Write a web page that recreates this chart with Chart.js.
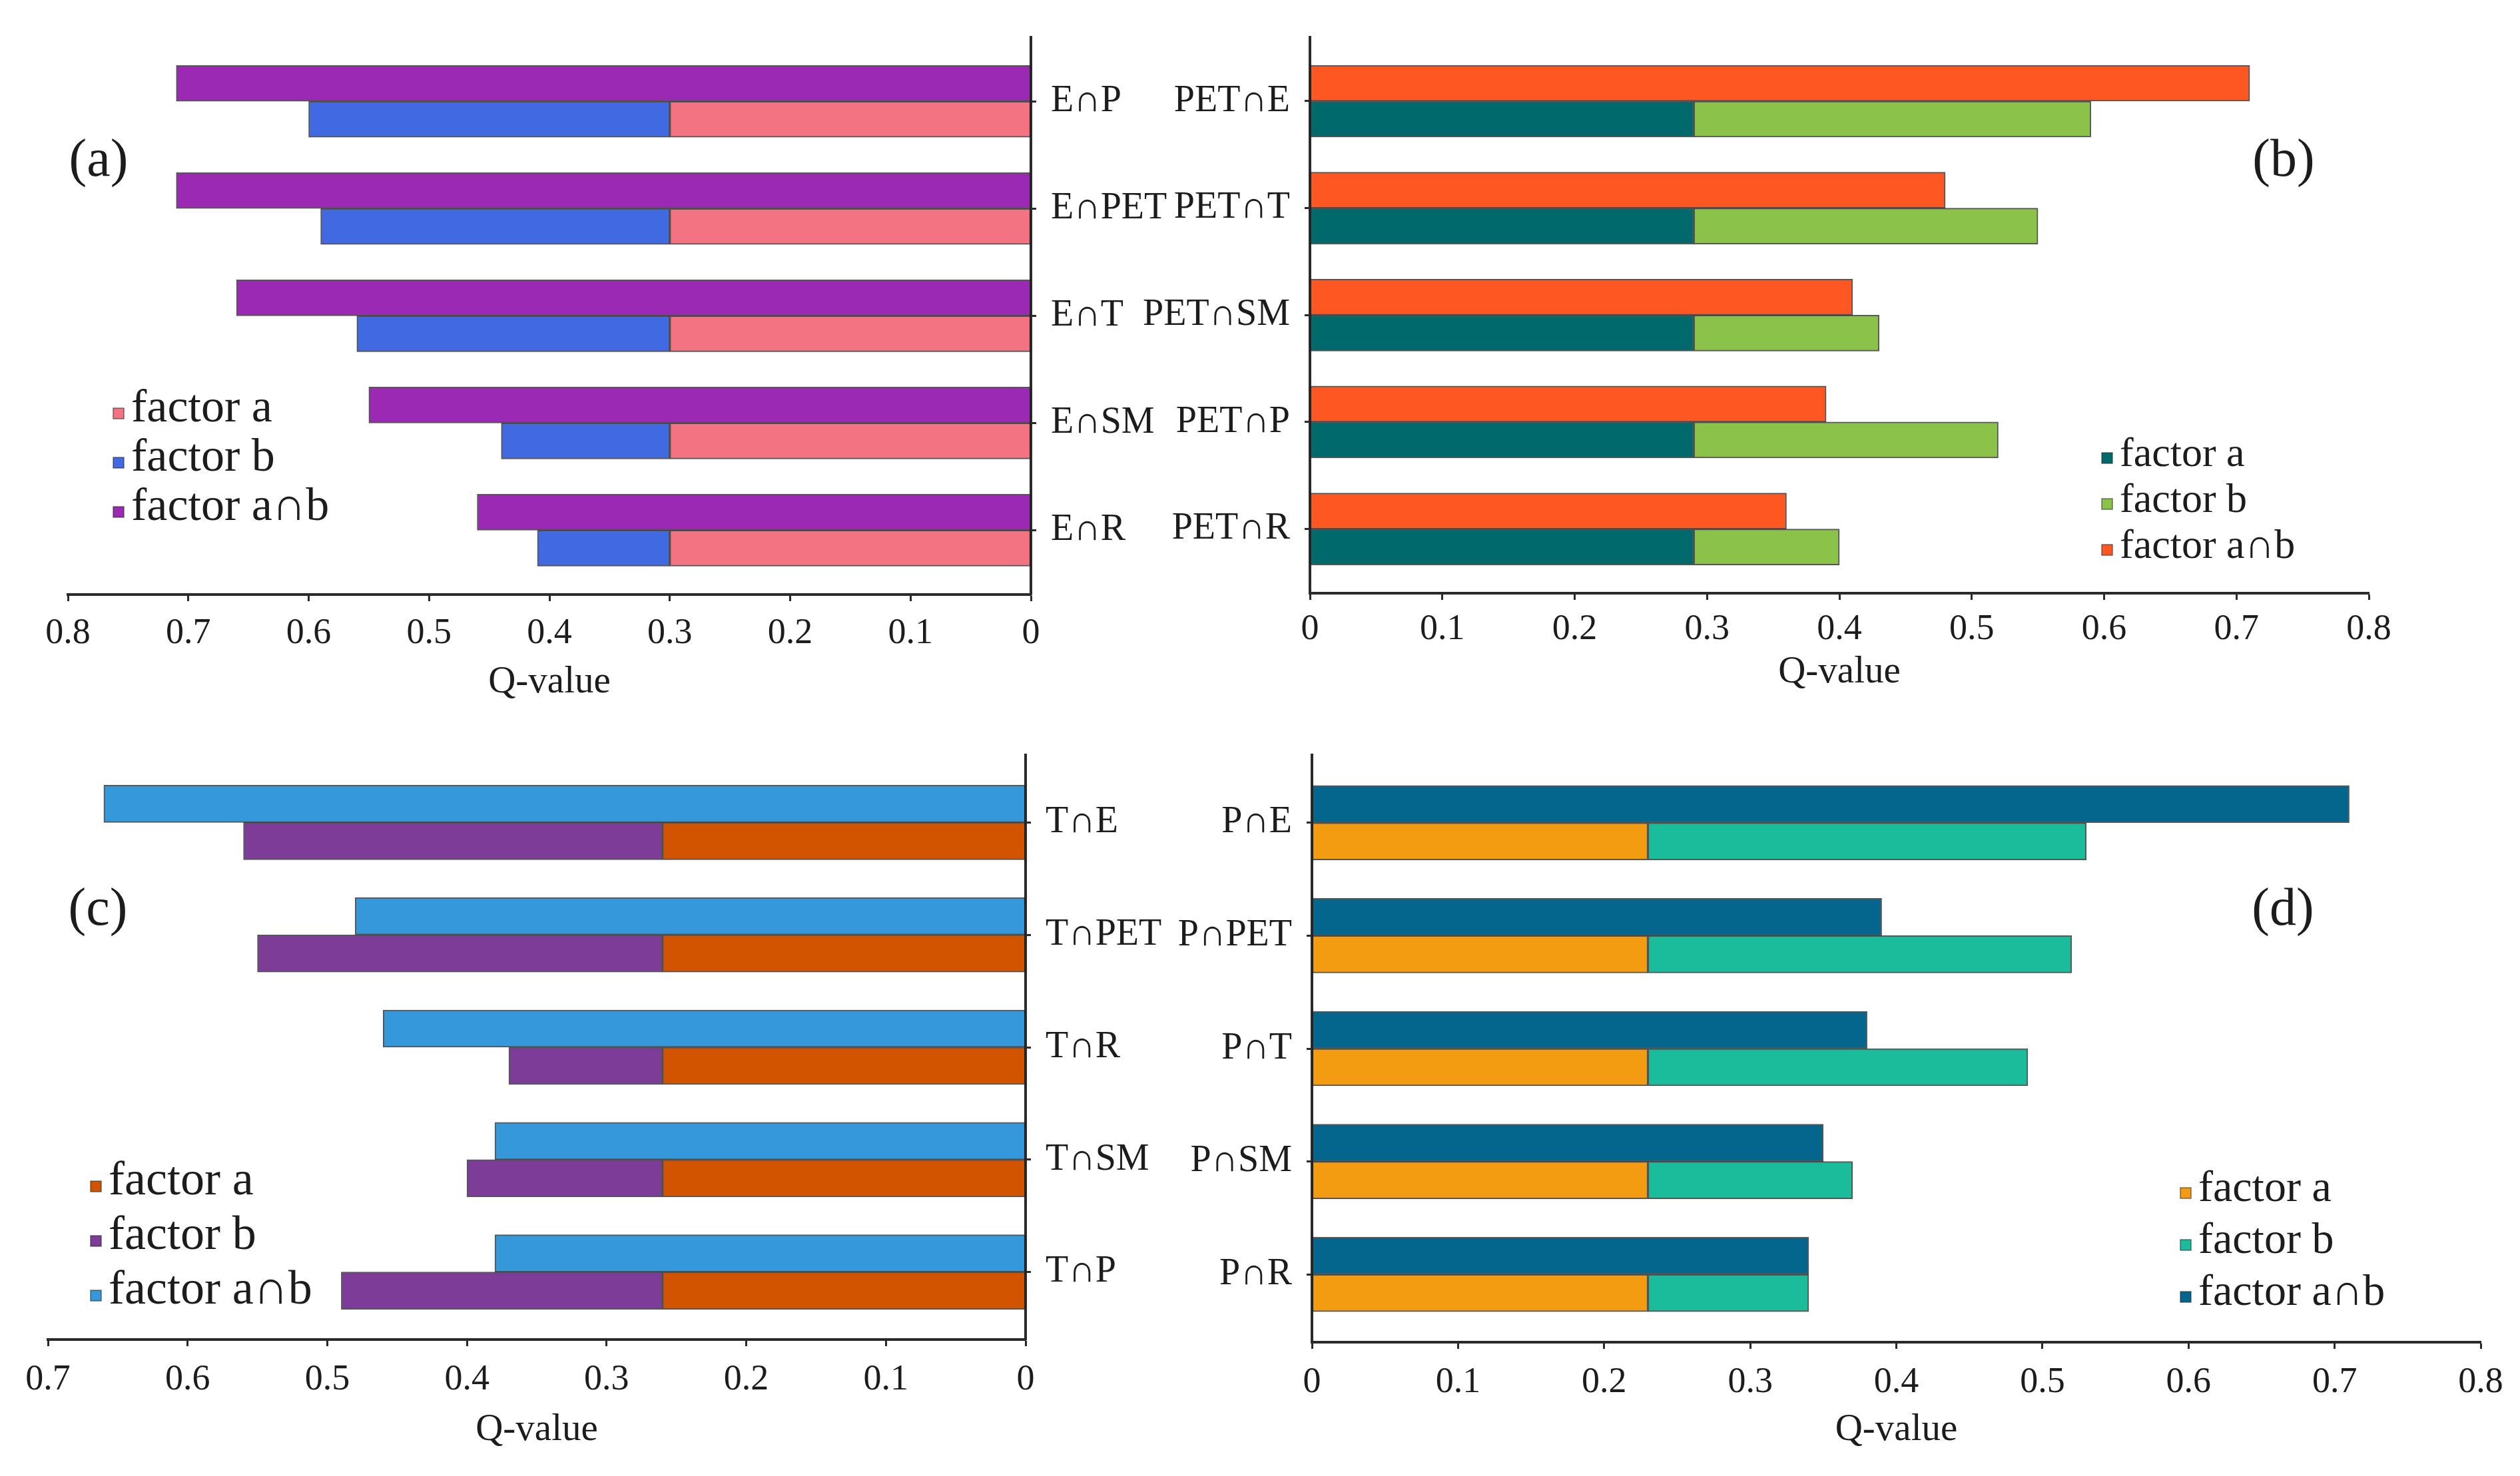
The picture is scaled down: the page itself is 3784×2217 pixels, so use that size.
<!DOCTYPE html>
<html>
<head>
<meta charset="utf-8">
<script src="https://cdn.jsdelivr.net/npm/chart.js@4.4.0/dist/chart.umd.min.js"></script>
<style>
  body { margin: 0; background: #fff; }
  #wrap { position: relative; width: 3784px; height: 2217px; overflow: hidden; background: #fff; }
  canvas { position: absolute; left: 0; top: 0; }
  #probe { position: absolute; left: -9999px; top: 0; font-family: "Liberation Serif"; font-size: 40px; }
</style>
</head>
<body>
<div id="wrap">
  <canvas id="pa" width="3784" height="2217"></canvas>
  <canvas id="pb" width="3784" height="2217"></canvas>
  <canvas id="pc" width="3784" height="2217"></canvas>
  <canvas id="pd" width="3784" height="2217"></canvas>
</div>
<div id="probe">factor Q-value 0.1</div>
<script>
const W = 3784, H = 2217;

// (a) E with other factors
const catsA = ["E∩P", "E∩PET", "E∩T", "E∩SM", "E∩R"];
const factorA_a = [0.30, 0.30, 0.30, 0.30, 0.30];
const factorB_a = [0.60, 0.59, 0.56, 0.44, 0.41];
const factorAB_a = [0.71, 0.71, 0.66, 0.55, 0.46];

// (b) PET with other factors
const catsB = ["PET∩E", "PET∩T", "PET∩SM", "PET∩P", "PET∩R"];
const factorA_b = [0.29, 0.29, 0.29, 0.29, 0.29];
const factorB_b = [0.59, 0.55, 0.43, 0.52, 0.40];
const factorAB_b = [0.71, 0.48, 0.41, 0.39, 0.36];

// (c) T with other factors
const catsC = ["T∩E", "T∩PET", "T∩R", "T∩SM", "T∩P"];
const factorA_c = [0.26, 0.26, 0.26, 0.26, 0.26];
const factorB_c = [0.56, 0.55, 0.37, 0.40, 0.49];
const factorAB_c = [0.66, 0.48, 0.46, 0.38, 0.38];

// (d) P with other factors
const catsD = ["P∩E", "P∩PET", "P∩T", "P∩SM", "P∩R"];
const factorA_d = [0.23, 0.23, 0.23, 0.23, 0.23];
const factorB_d = [0.53, 0.52, 0.49, 0.37, 0.34];
const factorAB_d = [0.71, 0.39, 0.38, 0.35, 0.34];

const legendNames = ["factor a", "factor b", "factor a∩b"];

const serif = '"Liberation Serif", "Times New Roman", "DejaVu Serif", serif';
const ink = "#1c1c1c";
const titleSize = 57;
Chart.defaults.font.family = serif;
Chart.defaults.color = ink;

// panel tag + in-plot legend
const decor = {
  id: "decor",
  afterDraw(chart, args, o) {
    const ctx = chart.ctx;
    ctx.save();
    ctx.fillStyle = ink;
    ctx.font = "80px " + serif;
    ctx.textAlign = "center";
    ctx.textBaseline = "alphabetic";
    ctx.fillText(o.tag, o.tagX, o.tagY);

    ctx.font = o.size + "px " + serif;
    ctx.textAlign = "left";
    legendNames.forEach((name, i) => {
      const y = o.y + i * o.gap;
      const box = 16;
      const bx = o.x - 11 - box;
      ctx.fillStyle = o.colors[i];
      ctx.fillRect(bx, y - 12 - box / 2, box, box);
      ctx.strokeStyle = "rgba(40,40,40,0.6)";
      ctx.lineWidth = 1.5;
      ctx.strokeRect(bx, y - 12 - box / 2, box, box);
      ctx.fillStyle = ink;
      ctx.fillText(name, o.x, y);
    });
    ctx.restore();
  }
};

function panel(id, p) {
  const yRight = p.yPos === "right";
  const xH = p.titleMid + titleSize * 0.6 - p.area.bottom;
  new Chart(document.getElementById(id), {
    type: "bar",
    data: {
      datasets: [
        {
          label: legendNames[2], stack: "top",
          data: p.ab.map((v, i) => ({ x: v, y: i })),
          backgroundColor: p.colors[2]
        },
        {
          label: legendNames[0], stack: "low",
          data: p.a.map((v, i) => ({ x: v, y: i })),
          backgroundColor: p.colors[0]
        },
        {
          label: legendNames[1], stack: "low",
          data: p.b.map((v, i) => ({ x: [p.a[i], v], y: i })),
          backgroundColor: p.colors[1]
        }
      ]
    },
    options: {
      indexAxis: "y",
      responsive: false,
      animation: false,
      devicePixelRatio: 1,
      layout: {
        padding: {
          left: yRight ? p.area.left : 0,
          right: yRight ? 0 : W - p.area.right,
          top: p.area.top,
          bottom: H - p.area.bottom - xH
        }
      },
      datasets: {
        bar: {
          barThickness: p.thick,
          borderWidth: 2,
          borderColor: "rgba(30,30,30,0.75)",
          borderSkipped: false
        }
      },
      plugins: {
        legend: { display: false },
        tooltip: { enabled: false },
        decor: {
          tag: p.tag, tagX: p.tagX, tagY: p.tagY,
          x: p.legX, y: p.legY, gap: p.legGap, size: p.legSize,
          colors: p.colors
        }
      },
      scales: {
        x: {
          type: "linear",
          min: 0,
          max: p.max,
          reverse: yRight,
          stacked: false,
          offset: false,
          ticks: {
            stepSize: 0.1,
            padding: p.tickPad,
            color: ink,
            font: { size: 54 },
            callback: v => String(+v.toFixed(1))
          },
          grid: { drawOnChartArea: false, offset: false, tickLength: 10, tickWidth: 3, tickColor: "#2a2a2a" },
          border: { color: "#2a2a2a", width: 4 },
          title: { display: true, text: "Q-value", color: ink, font: { size: titleSize }, padding: 0 },
          afterFit: s => { s.height = xH; }
        },
        y: {
          type: "linear",
          position: p.yPos,
          reverse: true,
          offset: false,
          bounds: "data",
          grace: 0,
          min: -0.6,
          max: 4.6,
          afterBuildTicks: s => { s.ticks = p.cats.map((c, i) => ({ value: i })); },
          ticks: {
            padding: 22,
            includeBounds: false,
            color: ink,
            font: { size: 56 },
            callback: v => p.cats[v]
          },
          grid: { drawOnChartArea: false, offset: false, tickLength: 8, tickWidth: 3, tickColor: "#2a2a2a" },
          border: { color: "#2a2a2a", width: 4 },
          afterFit: s => { s.width = yRight ? W - p.area.right : p.area.left; }
        }
      }
    },
    plugins: [decor]
  });
}

function drawAll() {
  panel("pa", {
    cats: catsA, a: factorA_a, b: factorB_a, ab: factorAB_a,
    colors: ["#F47382", "#4169E1", "#9B29B3"],
    area: { left: 102, right: 1548, top: 46, bottom: 893 },
    yPos: "right", max: 0.8, tickPad: 16, titleMid: 1025, thick: 54,
    tag: "(a)", tagX: 148, tagY: 264,
    legX: 197, legY: 633, legGap: 74, legSize: 70
  });

  panel("pb", {
    cats: catsB, a: factorA_b, b: factorB_b, ab: factorAB_b,
    colors: ["#00696C", "#8BC34A", "#FF5722"],
    area: { left: 1967, right: 3557, top: 47, bottom: 891 },
    yPos: "left", max: 0.8, tickPad: 12, titleMid: 1010, thick: 54,
    tag: "(b)", tagX: 3429, tagY: 264,
    legX: 3183, legY: 700, legGap: 69, legSize: 62
  });

  panel("pc", {
    cats: catsC, a: factorA_c, b: factorB_c, ab: factorAB_c,
    colors: ["#D35400", "#7D3C98", "#3498DB"],
    area: { left: 72, right: 1540, top: 1134, bottom: 2012 },
    yPos: "right", max: 0.7, tickPad: 18, titleMid: 2148, thick: 56,
    tag: "(c)", tagX: 147, tagY: 1389,
    legX: 163, legY: 1794, legGap: 82, legSize: 72
  });

  panel("pd", {
    cats: catsD, a: factorA_d, b: factorB_d, ab: factorAB_d,
    colors: ["#F39C12", "#1ABC9C", "#05668D"],
    area: { left: 1970, right: 3725, top: 1134, bottom: 2016 },
    yPos: "left", max: 0.8, tickPad: 18, titleMid: 2148, thick: 56,
    tag: "(d)", tagX: 3428, tagY: 1389,
    legX: 3301, legY: 1804, legGap: 78, legSize: 66
  });
}

if (document.fonts && document.fonts.load) {
  document.fonts.load('54px "Liberation Serif"').then(drawAll, drawAll);
} else {
  drawAll();
}
</script>
</body>
</html>
